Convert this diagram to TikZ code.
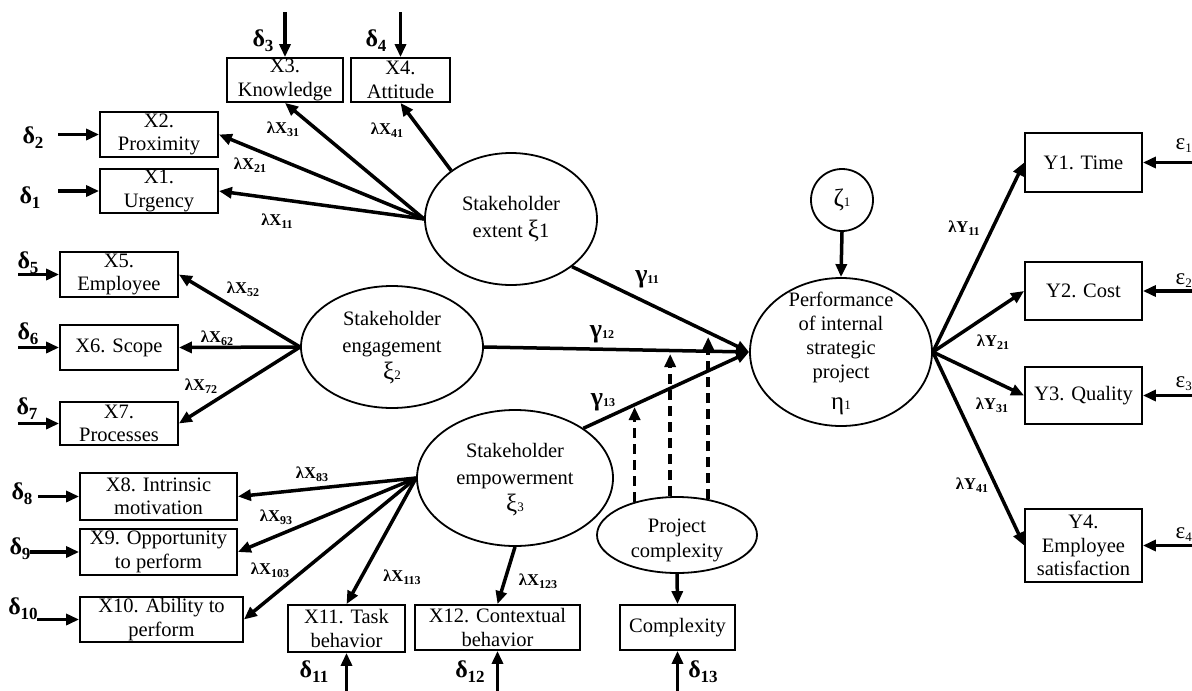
\documentclass[tikz,border=0pt]{standalone}
\usepackage{fontspec}
\setmainfont{Liberation Serif}
\usetikzlibrary{arrows.meta,shapes.geometric}

\newcommand\boxfont{\fontsize{20.5}{23.5}\selectfont}
\newcommand\latfont{\fontsize{20.5}{27}\selectfont}
\newcommand\lamfont{\fontsize{16.5}{18}\selectfont\bfseries}
% error, loading and path labels: symbol with a lowered index
\newcommand\dlab[1]{{\fontsize{24}{24}\selectfont\bfseries δ}\raisebox{-5pt}{\fontsize{17}{17}\selectfont\bfseries #1}}
\newcommand\glab[1]{{\fontsize{26}{26}\selectfont\bfseries γ}\raisebox{-1pt}{\fontsize{12}{12}\selectfont\bfseries #1}}
\newcommand\elab[1]{{\fontsize{23}{23}\selectfont ε}\raisebox{-3pt}{\fontsize{13}{13}\selectfont #1}}
\newcommand\llab[2]{λ#1\raisebox{-3.5pt}{\fontsize{12}{12}\selectfont\bfseries #2}}
\newcommand\grk[1]{{\fontsize{25}{25}\selectfont #1}}
\newcommand\smalldigit[1]{{\fontsize{13}{13}\selectfont #1}}

\begin{document}
\begin{tikzpicture}[x=1pt,y=-1pt,
  box/.style={draw, line width=1.8pt, inner sep=0pt, align=center, font=\boxfont},
  latent/.style={draw, ellipse, line width=1.8pt, inner sep=0pt},
  lattext/.style={align=center, font=\latfont, inner sep=0pt},
  conn/.style={line width=3.5pt, -{Triangle[length=13pt,width=11pt]}},
  modpath/.style={conn, dash pattern=on 10pt off 6pt},
  lam/.style={font=\lamfont, inner sep=0pt},
  lbl/.style={inner sep=0pt}]

\useasboundingbox (0,0) rectangle (1192,691);

% ---------- observed indicators ----------
\node[box, minimum width=116pt, minimum height=44pt] (X3) at (285,80) {X3.\\Knowledge};
\node[box, minimum width=99pt,  minimum height=44pt] (X4) at (400.5,80) {X4.\\Attitude};
\node[box, minimum width=118pt, minimum height=45pt] (X2) at (159,134.5) {X2.\\Proximity};
\node[box, minimum width=118pt, minimum height=44pt] (X1) at (159,191) {X1.\\Urgency};
\node[box, minimum width=118pt, minimum height=45pt] (X5) at (119,274.5) {X5.\\Employee};
\node[box, minimum width=118pt, minimum height=45pt] (X6) at (119,347.5) {X6. Scope};
\node[box, minimum width=118pt, minimum height=43pt] (X7) at (119,423.5) {X7.\\Processes};
\node[box, minimum width=157pt, minimum height=47pt] (X8) at (158.5,496.5) {X8. Intrinsic\\motivation};
\node[box, minimum width=157pt, minimum height=46pt] (X9) at (158.5,552) {X9. Opportunity\\to perform};
\node[box, minimum width=163pt, minimum height=45pt] (X10) at (161.5,619.5) {X10. Ability to\\perform};
\node[box, minimum width=117pt, minimum height=47pt] (X11) at (346.5,628.5) {X11. Task\\behavior};
\node[box, minimum width=165pt, minimum height=45pt] (X12) at (497.5,627.5) {X12. Contextual\\behavior};
\node[box, minimum width=115pt, minimum height=45pt] (CX) at (677.5,627.5) {Complexity};
\node[box, minimum width=117pt, minimum height=59pt] (Y1) at (1083.5,162.5) {Y1. Time};
\node[box, minimum width=117pt, minimum height=58pt] (Y2) at (1083.5,291) {Y2. Cost};
\node[box, minimum width=117pt, minimum height=57pt] (Y3) at (1083.5,395.5) {Y3. Quality};
\node[box, minimum width=117pt, minimum height=73pt] (Y4) at (1083.5,545.5) {Y4.\\Employee\\satisfaction};

% ---------- latent variables ----------
\node[latent, minimum width=172pt, minimum height=132pt] (E1) at (511,219) {};
\node[lattext] (E1t) at (511,219) {Stakeholder\\extent \grk{ξ}1};
\node[latent, minimum width=182pt, minimum height=122pt] (E2) at (392,347) {};
\node[lattext] (E2t) at (392,348) {Stakeholder\\engagement\\\grk{ξ}\smalldigit{2}};
\node[latent, minimum width=196pt, minimum height=136pt] (E3) at (515,478) {};
\node[lattext] (E3t) at (515,480) {Stakeholder\\empowerment\\\grk{ξ}\smalldigit{3}};
\node[latent, minimum width=160pt, minimum height=76pt] (PC) at (677,535) {};
\node[lattext, font=\fontsize{20.5}{25}\selectfont] (PCt) at (677,540) {Project\\complexity};
\node[latent, minimum width=182pt, minimum height=148pt] (ETA) at (841,352) {};
\node[lattext, font=\fontsize{20.5}{24}\selectfont] (ETAt) at (841,353) {Performance\\of internal\\strategic\\project\\[7pt]\grk{η}\smalldigit{1}};
\node[draw, circle, line width=1.8pt, minimum size=62pt, inner sep=0pt] (Z) at (842,200) {\grk{ζ}\smalldigit{1}};

% ---------- loadings of the exogenous constructs ----------
\draw[conn] (E1.west) -- (X1.east);
\draw[conn] (E1.west) -- (X2.east);
\draw[conn] (E1.west) -- (X3.south);
\draw[conn] (E1.141) -- (X4.south);

\draw[conn] (E2.west) -- (X5.east);
\draw[conn] (E2.west) -- (X6.east);
\draw[conn] (E2.west) -- (X7.east);

\draw[conn] (E3.west) -- (X8.east);
\draw[conn] (E3.west) -- (X9.east);
\draw[conn] (E3.west) -- (X10.east);
\draw[conn] (E3.west) -- (X11.north);
\draw[conn] (E3.south) -- (X12.north);

% ---------- structural paths ----------
\draw[conn] (E1.-38) -- (ETA.west);
\draw[conn] (E2.east) -- (ETA.west);
\draw[conn] (E3.36) -- (ETA.west);
\draw[conn] (Z.south) -- (ETA.north);

% ---------- moderator ----------
\coordinate (t1) at (635,407);
\coordinate (t2) at (670,354);
\coordinate (t3) at (707,337);
\draw[modpath] (PC.142.4) -- (PC.142.4 |- t1);
\draw[modpath] (PC.100.5) -- (PC.100.5 |- t2);
\draw[modpath] (PC.49.6) -- (PC.49.6 |- t3);
\draw[conn] (PC.south) -- (CX.north);

% ---------- loadings of the endogenous construct ----------
\draw[conn] (ETA.east) -- (Y1.west);
\draw[conn] (ETA.east) -- (Y2.west);
\draw[conn] (ETA.east) -- (Y3.west);
\draw[conn] (ETA.east) -- (Y4.west);

% ---------- measurement errors ----------
\coordinate (d1s) at (58,191);
\coordinate (d2s) at (58,134.5);
\coordinate (d3s) at (285,12);
\coordinate (d4s) at (400.5,12);
\coordinate (d5s) at (18,274.5);
\coordinate (d6s) at (18,347.5);
\coordinate (d7s) at (18,423.5);
\coordinate (d8s) at (38,496.5);
\coordinate (d9s) at (30,552);
\coordinate (d10s) at (37,619.5);
\coordinate (d11s) at (346.5,691);
\coordinate (d12s) at (497.5,691);
\coordinate (d13s) at (677.5,691);
\coordinate (e1s) at (1192,162.5);
\coordinate (e2s) at (1192,291);
\coordinate (e3s) at (1192,395.5);
\coordinate (e4s) at (1192,545.5);

\draw[conn] (d1s) -- (X1.west);
\draw[conn] (d2s) -- (X2.west);
\draw[conn] (d3s) -- (X3.north);
\draw[conn] (d4s) -- (X4.north);
\draw[conn] (d5s) -- (X5.west);
\draw[conn] (d6s) -- (X6.west);
\draw[conn] (d7s) -- (X7.west);
\draw[conn] (d8s) -- (X8.west);
\draw[conn] (d9s) -- (X9.west);
\draw[conn] (d10s) -- (X10.west);
\draw[conn] (d11s) -- (X11.south);
\draw[conn] (d12s) -- (X12.south);
\draw[conn] (d13s) -- (CX.south);
\draw[conn] (e1s) -- (Y1.east);
\draw[conn] (e2s) -- (Y2.east);
\draw[conn] (e3s) -- (Y3.east);
\draw[conn] (e4s) -- (Y4.east);

\node[lbl] (d1) at (30,198) {\dlab{1}};
\node[lbl] (d2) at (33,138) {\dlab{2}};
\node[lbl] (d3) at (263,41) {\dlab{3}};
\node[lbl] (d4) at (376,41) {\dlab{4}};
\node[lbl] (d5) at (28,263) {\dlab{5}};
\node[lbl] (d6) at (28,334) {\dlab{6}};
\node[lbl] (d7) at (27,409) {\dlab{7}};
\node[lbl] (d8) at (22,494) {\dlab{8}};
\node[lbl] (d9) at (20,549) {\dlab{9}};
\node[lbl] (d10) at (23,609) {\dlab{10}};
\node[lbl] (d11) at (314,672) {\dlab{11}};
\node[lbl] (d12) at (470,672) {\dlab{12}};
\node[lbl] (d13) at (703,672) {\dlab{13}};

\node[lbl, anchor=east] (e1) at (1192,146) {\elab{1}};
\node[lbl, anchor=east] (e2) at (1192,281) {\elab{2}};
\node[lbl, anchor=east] (e3) at (1192,384) {\elab{3}};
\node[lbl, anchor=east] (e4) at (1192,535) {\elab{4}};

% ---------- coefficient labels ----------
\node[lam] (l31) at (283,129) {\llab{X}{31}};
\node[lam] (l41) at (387,130) {\llab{X}{41}};
\node[lam] (l21) at (250,165) {\llab{X}{21}};
\node[lam] (l11) at (277,221) {\llab{X}{11}};
\node[lam] (l52) at (243,289) {\llab{X}{52}};
\node[lam] (l62) at (217,338) {\llab{X}{62}};
\node[lam] (l72) at (201,386) {\llab{X}{72}};
\node[lam] (l83) at (312,474) {\llab{X}{83}};
\node[lam] (l93) at (276,517) {\llab{X}{93}};
\node[lam] (l103) at (270,570) {\llab{X}{103}};
\node[lam] (l113) at (402,577) {\llab{X}{113}};
\node[lam] (l123) at (538,581) {\llab{X}{123}};
\node[lam] (ly11) at (964,228) {\llab{Y}{11}};
\node[lam] (ly21) at (993,342) {\llab{Y}{21}};
\node[lam] (ly31) at (992,405) {\llab{Y}{31}};
\node[lam] (ly41) at (972,485) {\llab{Y}{41}};

\node[lbl] (g11) at (647,279) {\glab{11}};
\node[lbl] (g12) at (602,334) {\glab{12}};
\node[lbl] (g13) at (603,402) {\glab{13}};

\end{tikzpicture}
\end{document}
